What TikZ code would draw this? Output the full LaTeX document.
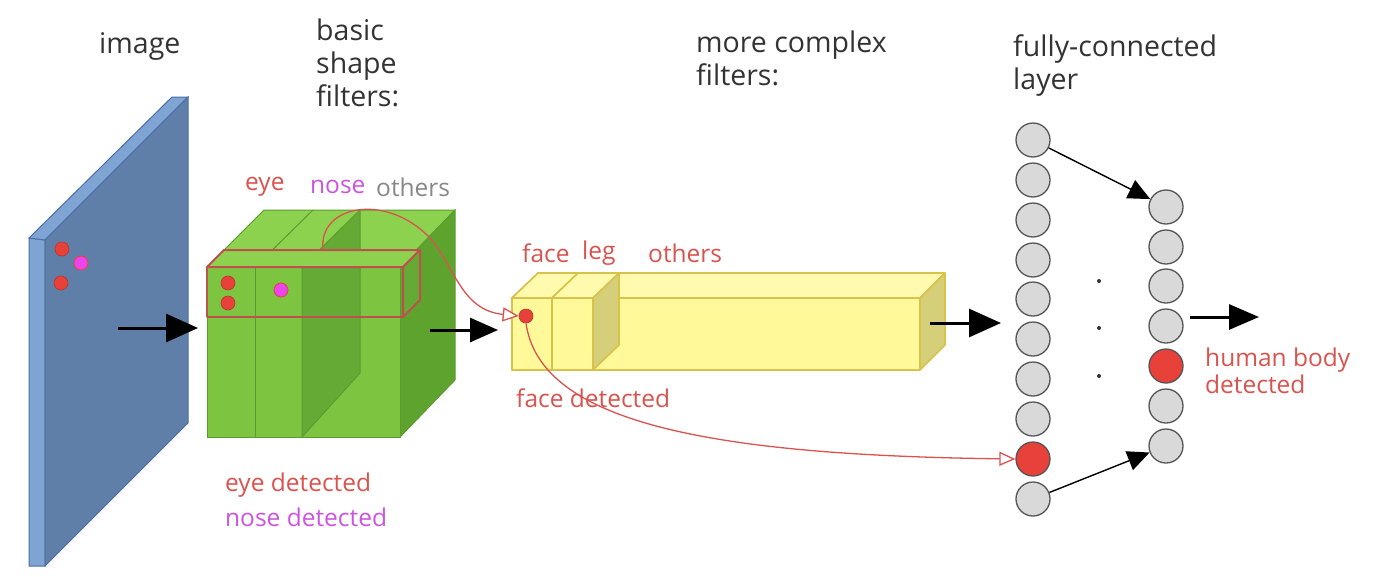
\documentclass[tikz,border=0pt]{standalone}
\usepackage{fontspec}
\setmainfont{Open Sans}
\usetikzlibrary{arrows.meta}
\definecolor{txt}{HTML}{333333}
\definecolor{lred}{HTML}{D9534F}
\definecolor{lmag}{HTML}{CC55DD}
\definecolor{lgray}{HTML}{888888}
\definecolor{dotred}{HTML}{E8413A}
\definecolor{dotmag}{HTML}{EE44EE}
\definecolor{pfront}{HTML}{5F7FA8}
\definecolor{pside}{HTML}{7FA3D3}
\definecolor{pedge}{HTML}{4A6FA5}
\definecolor{gfront}{HTML}{7DC540}
\definecolor{gtop}{HTML}{8DD24F}
\definecolor{gside}{HTML}{5FA32F}
\definecolor{gplane}{HTML}{66AA36}
\definecolor{gedge}{HTML}{5C9B2F}
\definecolor{boxred}{HTML}{C0504D}
\definecolor{yfront}{HTML}{FFF99A}
\definecolor{ytop}{HTML}{FFFAAE}
\definecolor{yside}{HTML}{D5CF7A}
\definecolor{yedge}{HTML}{D9C24A}
\definecolor{nfill}{HTML}{D9D9D9}
\definecolor{nedge}{HTML}{555555}
\tikzset{
  biglbl/.style={font=\fontsize{28.5}{33}\selectfont, text=txt, align=left, inner sep=0pt},
  smalllbl/.style={font=\fontsize{24.5}{27}\selectfont, align=left, inner sep=0pt},
  dotr/.style={circle, minimum size=14pt, inner sep=0pt, fill=dotred, draw=dotred!80!black, line width=0.6pt},
  dotm/.style={circle, minimum size=14pt, inner sep=0pt, fill=dotmag, draw=dotred, line width=0.8pt},
  neuron/.style={circle, minimum size=34pt, inner sep=0pt, fill=nfill, draw=nedge, line width=1.3pt},
  neuronr/.style={neuron, fill=dotred},
  flow/.style={line width=3pt, -{Triangle[length=32pt, width=28pt]}},
  fcarrow/.style={line width=1.4pt, -{Triangle[length=22pt, width=20pt]}},
  redcurve/.style={draw=lred, line width=1.3pt, -{Triangle[open, length=16pt, width=14pt, fill=white]}},
}
\begin{document}
\begin{tikzpicture}[x=1pt, y=-1pt]
\useasboundingbox[fill=white] (0,0) rectangle (1374,576);

% ---------- image panel ----------
\fill[pside, draw=pedge, line width=1pt] (29,238) -- (45,240) -- (45,566) -- (29,566) -- cycle;
\fill[pside, draw=pedge, line width=1pt] (29,238) -- (172,97) -- (188,97) -- (45,240) -- cycle;
\fill[pfront, draw=pedge, line width=1pt] (45,240) -- (188,97) -- (188,423) -- (45,566) -- cycle;
\node[dotr] (pd1) at (62,249) {};
\node[dotm] (pd2) at (81,263) {};
\node[dotr] (pd3) at (61,283) {};

% ---------- green cube ----------
\begin{scope}[line width=1pt, draw=gedge]
\filldraw[fill=gtop, draw=gedge] (207,267) -- (264,210) -- (455,210) -- (400,267) -- cycle;
\filldraw[fill=gside, draw=gedge] (400,267) -- (455,210) -- (455,380) -- (400,437) -- cycle;
\filldraw[fill=gfront, draw=gedge] (207,267) rectangle (400,437);
\filldraw[fill=gplane, draw=gedge] (302,267) -- (360,210) -- (360,373) -- (302,437) -- cycle;
\draw[gedge] (255,267) -- (255,437);
\draw[gedge] (255,267) -- (313,210);
\end{scope}
% red filter box
\filldraw[fill=gtop, draw=boxred, line width=2pt, line join=round] (207,267) -- (224,250) -- (420,250) -- (403,267) -- cycle;
\filldraw[fill=gplane, draw=boxred, line width=2pt, line join=round] (403,267) -- (420,250) -- (420,300) -- (403,317) -- cycle;
\draw[boxred, line width=2pt, line join=round] (207,267) rectangle (403,317);
\coordinate (fstart) at (323,250);
\node[dotr] (gd1) at (228,283) {};
\node[dotr] (gd2) at (228,303) {};
\node[dotm] (gd3) at (281,290) {};

% ---------- yellow block ----------
\begin{scope}[line width=1.6pt, line join=round]
\filldraw[fill=ytop, draw=yedge] (512,298) -- (538,273) -- (945,273) -- (920,298) -- cycle;
\filldraw[fill=yside, draw=yedge] (920,298) -- (945,273) -- (945,345) -- (920,370) -- cycle;
\filldraw[fill=yfront, draw=yedge] (512,298) rectangle (920,370);
% face slab
\filldraw[fill=ytop, draw=yedge] (512,298) -- (538,273) -- (578,273) -- (552,298) -- cycle;
\filldraw[fill=yfront, draw=yedge] (512,298) rectangle (552,370);
% leg slab
\filldraw[fill=ytop, draw=yedge] (552,298) -- (578,273) -- (619,273) -- (593,298) -- cycle;
\filldraw[fill=yside, draw=yedge] (593,298) -- (619,273) -- (619,345) -- (593,370) -- cycle;
\filldraw[fill=yfront, draw=yedge] (552,298) rectangle (593,370);
\end{scope}
\node[dotr] (fdot) at (526,316) {};

% ---------- fully connected ----------
\foreach \i/\y in {1/140,2/180,3/220,4/260,5/299,6/339,7/379,8/419,10/499}
  \node[neuron] (n\i) at (1033,\y) {};
\node[neuronr] (n9) at (1033,459) {};
\foreach \i/\y in {1/207,2/247,3/286,4/326,6/406,7/446}
  \node[neuron] (m\i) at (1166,\y) {};
\node[neuronr] (m5) at (1166,366) {};
\foreach \i/\y in {1/281,2/328,3/376}
  \node[circle, fill=txt, inner sep=0pt, minimum size=4pt] (dd\i) at (1099,\y) {};

% ---------- connectors ----------
\coordinate (a1s) at (118,328); \coordinate (a1e) at (198,328);
\coordinate (a2s) at (430,330); \coordinate (a2e) at (498,330);
\coordinate (a3s) at (930,323); \coordinate (a3e) at (1001,323);
\coordinate (a4s) at (1190,317); \coordinate (a4e) at (1259,317);
\draw[flow] (a1s) -- (a1e);
\draw[flow, -{Triangle[length=28pt, width=24pt]}] (a2s) -- (a2e);
\draw[flow] (a3s) -- (a3e);
\draw[flow, -{Triangle[length=30pt, width=25pt]}] (a4s) -- (a4e);
\draw[fcarrow] (n1) -- (m1);
\draw[fcarrow] (n10) -- (m7);
\draw[redcurve] (fstart) .. controls (318,205) and (385,193) .. (428,236) .. controls (455,265) and (460,310) .. (fdot.west);
\draw[redcurve] (fdot.south) .. controls (540,420) and (700,455) .. (n9.west);

% ---------- labels ----------
\node[biglbl, anchor=west] (limage) at (99,46) {image};
\node[biglbl, anchor=west] (lbasic) at (316,63) {basic\\shape\\filters:};
\node[biglbl, anchor=west] (lmore) at (696,58) {more complex\\filters:};
\node[biglbl, anchor=west] (lfc) at (1013,66) {fully-connected\\layer};
\node[smalllbl, text=lred, anchor=west] (leye) at (245,187) {eye};
\node[smalllbl, text=lmag, anchor=west] (lnose) at (310,187) {nose};
\node[smalllbl, text=lgray, anchor=west] (loth) at (376,187) {others};
\node[smalllbl, text=lred, anchor=west] (lface) at (522,253) {face};
\node[smalllbl, text=lred, anchor=west] (lleg) at (582,253) {leg};
\node[smalllbl, text=lred, anchor=west] (loth2) at (648,253) {others};
\node[smalllbl, text=lred, anchor=west] (lfd) at (516,398) {face detected};
\node[smalllbl, text=lred, anchor=west] (led) at (225,485) {eye detected};
\node[smalllbl, text=lmag, anchor=west] (lnd) at (225,517) {nose detected};
\node[smalllbl, text=lred, anchor=west] (lhb) at (1205,371) {human body\\detected};
\end{tikzpicture}
\end{document}
